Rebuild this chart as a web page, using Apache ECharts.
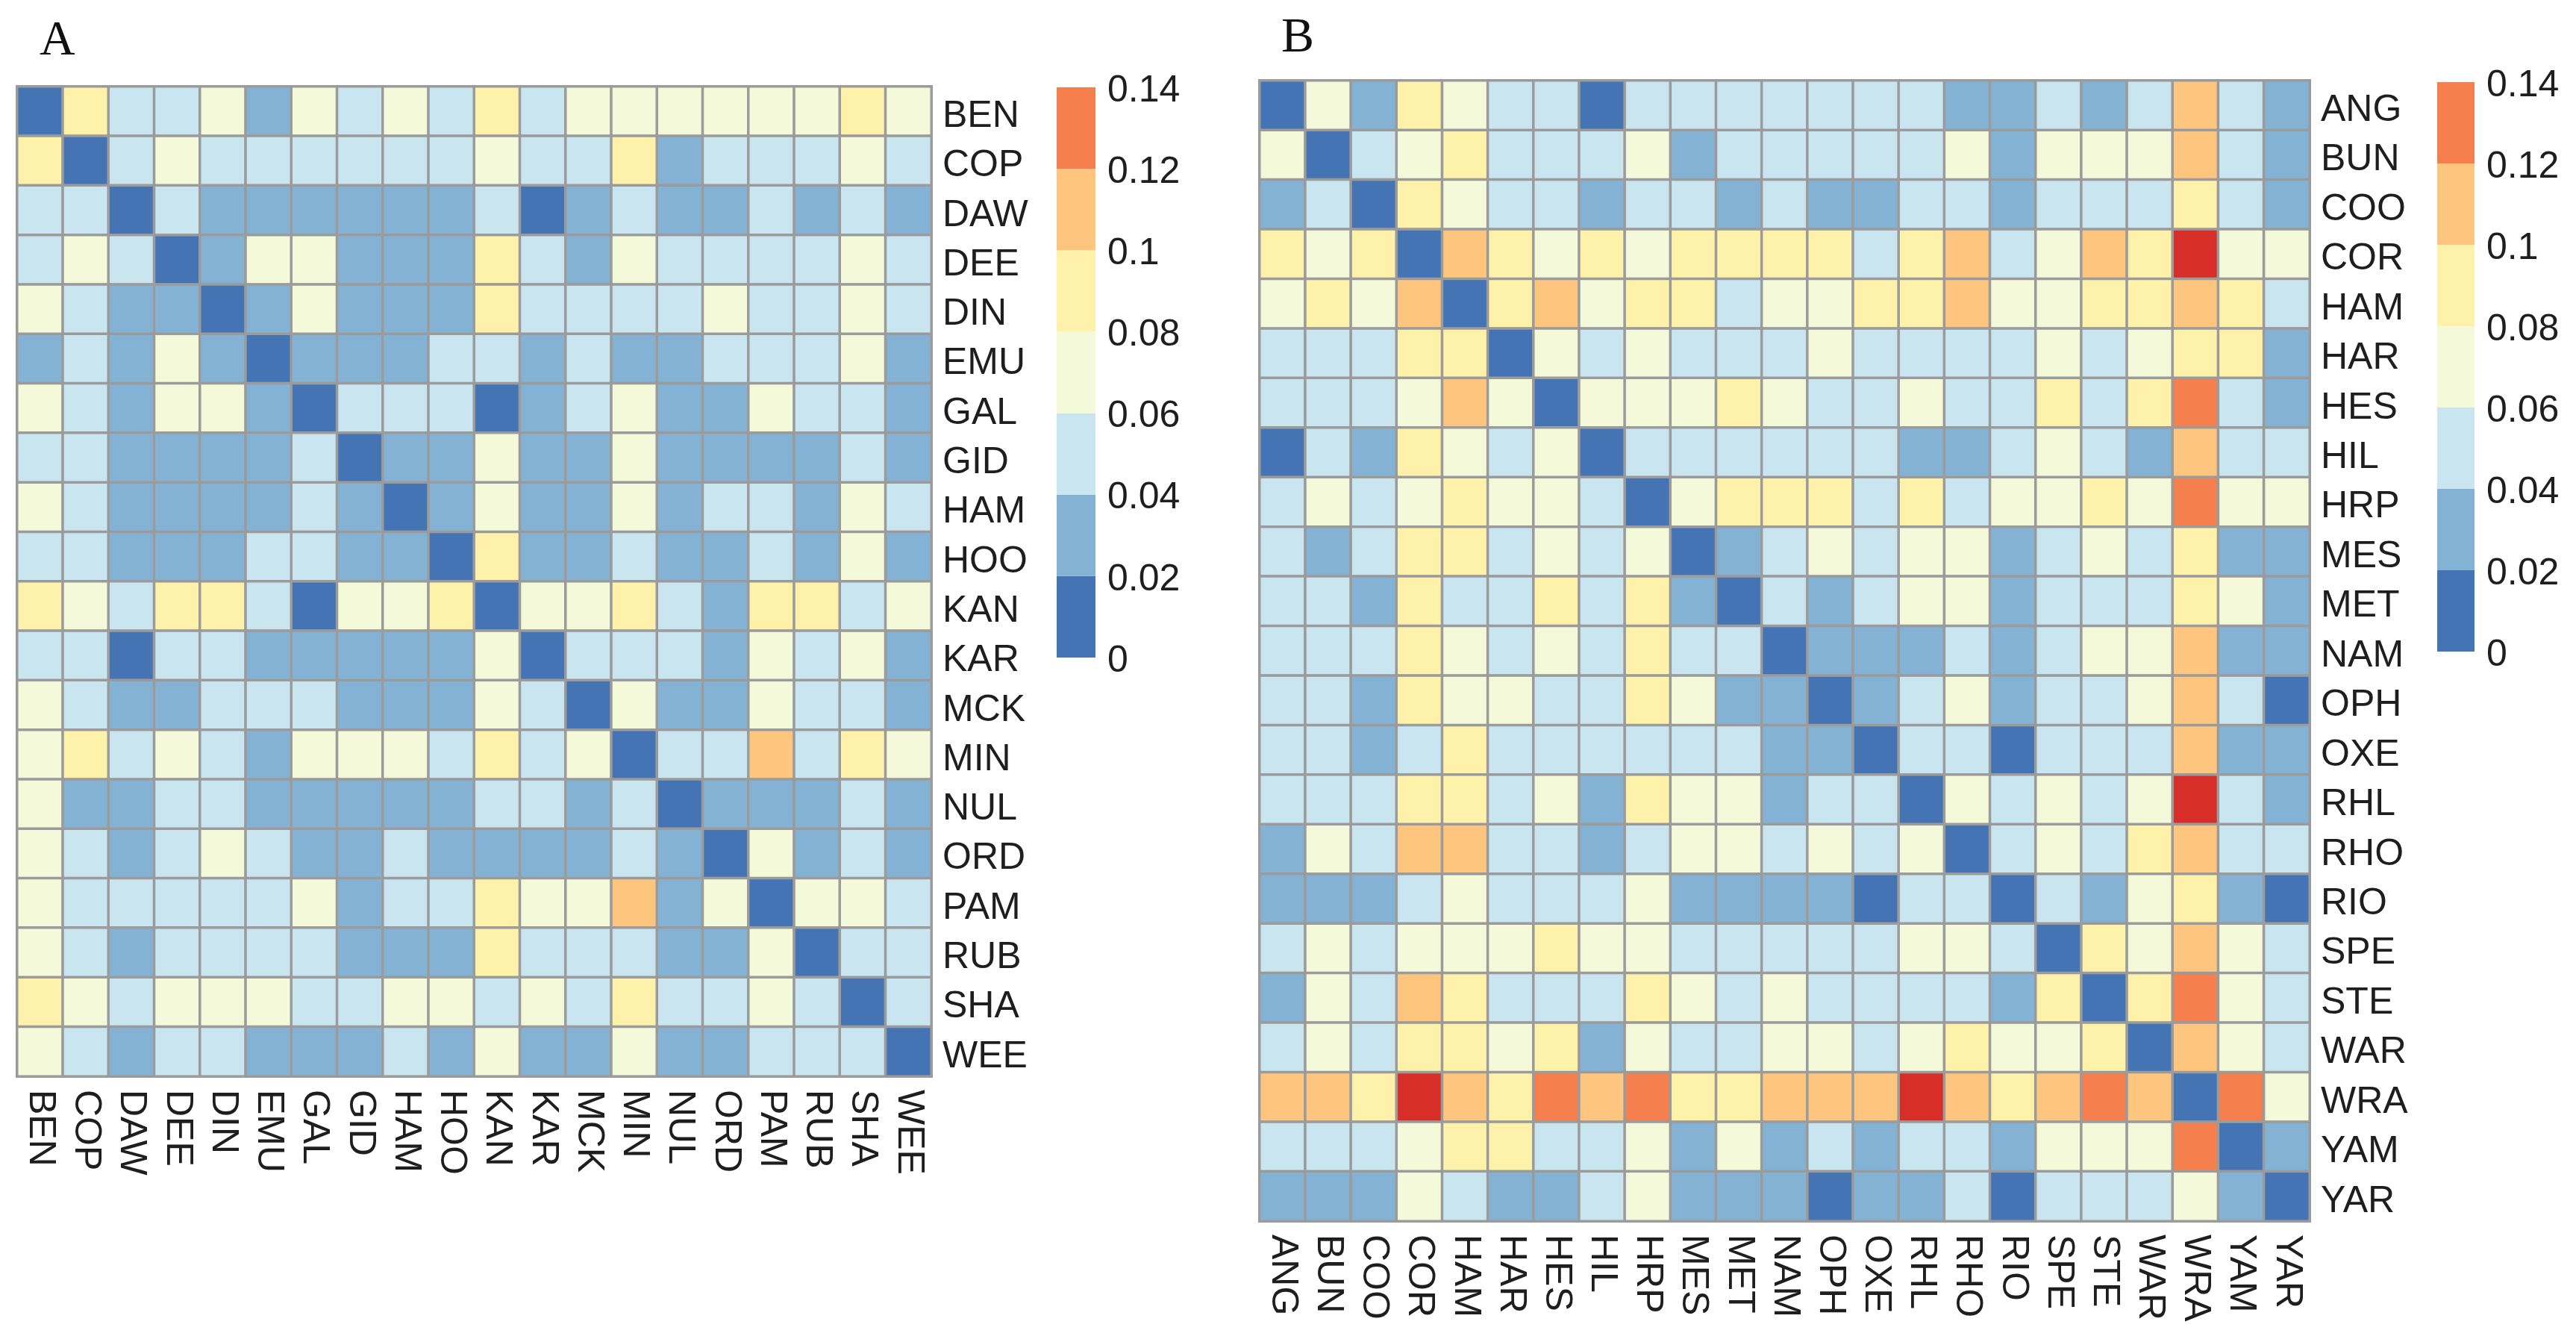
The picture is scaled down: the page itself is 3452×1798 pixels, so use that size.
<!DOCTYPE html>
<html>
<head>
<meta charset="utf-8">
<script src="https://cdn.jsdelivr.net/npm/echarts@6/dist/echarts.min.js"></script>
<style>
html,body{margin:0;padding:0;background:#fff;}
#chart{width:3452px;height:1798px;}
</style>
</head>
<body>
<div id="chart"></div>
<script>
// ---------- Panel A ----------
const sitesA = ['BEN','COP','DAW','DEE','DIN','EMU','GAL','GID','HAM','HOO','KAN','KAR','MCK','MIN','NUL','ORD','PAM','RUB','SHA','WEE'];
const valuesA = [
 [0,.09,.05,.05,.07,.03,.07,.05,.07,.05,.09,.05,.07,.07,.07,.07,.07,.07,.09,.07],
 [.09,0,.05,.07,.05,.05,.05,.05,.05,.05,.07,.05,.05,.09,.03,.05,.05,.05,.07,.05],
 [.05,.05,0,.05,.03,.03,.03,.03,.03,.03,.05,.01,.03,.05,.03,.03,.05,.03,.05,.03],
 [.05,.07,.05,0,.03,.07,.07,.03,.03,.03,.09,.05,.03,.07,.05,.05,.05,.05,.07,.05],
 [.07,.05,.03,.03,0,.03,.07,.03,.03,.03,.09,.05,.05,.05,.05,.07,.05,.05,.07,.05],
 [.03,.05,.03,.07,.03,0,.03,.03,.03,.05,.05,.03,.05,.03,.03,.05,.05,.05,.07,.03],
 [.07,.05,.03,.07,.07,.03,0,.05,.05,.05,.01,.03,.05,.07,.03,.03,.07,.05,.05,.03],
 [.05,.05,.03,.03,.03,.03,.05,0,.03,.03,.07,.03,.03,.07,.03,.03,.03,.03,.05,.03],
 [.07,.05,.03,.03,.03,.03,.05,.03,0,.03,.07,.03,.03,.07,.03,.05,.05,.03,.07,.05],
 [.05,.05,.03,.03,.03,.05,.05,.03,.03,0,.09,.03,.03,.05,.03,.03,.05,.03,.07,.03],
 [.09,.07,.05,.09,.09,.05,.01,.07,.07,.09,0,.07,.07,.09,.05,.03,.09,.09,.05,.07],
 [.05,.05,.01,.05,.05,.03,.03,.03,.03,.03,.07,0,.05,.05,.05,.03,.07,.05,.07,.03],
 [.07,.05,.03,.03,.05,.05,.05,.03,.03,.03,.07,.05,0,.07,.03,.03,.07,.05,.05,.03],
 [.07,.09,.05,.07,.05,.03,.07,.07,.07,.05,.09,.05,.07,0,.05,.05,.11,.05,.09,.07],
 [.07,.03,.03,.05,.05,.03,.03,.03,.03,.03,.05,.05,.03,.05,0,.03,.03,.03,.05,.03],
 [.07,.05,.03,.05,.07,.05,.03,.03,.05,.03,.03,.03,.03,.05,.03,0,.07,.03,.05,.03],
 [.07,.05,.05,.05,.05,.05,.07,.03,.05,.05,.09,.07,.07,.11,.03,.07,0,.07,.07,.05],
 [.07,.05,.03,.05,.05,.05,.05,.03,.03,.03,.09,.05,.05,.05,.03,.03,.07,0,.05,.05],
 [.09,.07,.05,.07,.07,.07,.05,.05,.07,.07,.05,.07,.05,.09,.05,.05,.07,.05,0,.05],
 [.07,.05,.03,.05,.05,.03,.03,.03,.05,.03,.07,.03,.03,.07,.03,.03,.05,.05,.05,0]
];

// ---------- Panel B ----------
const sitesB = ['ANG','BUN','COO','COR','HAM','HAR','HES','HIL','HRP','MES','MET','NAM','OPH','OXE','RHL','RHO','RIO','SPE','STE','WAR','WRA','YAM','YAR'];
const valuesB = [
 [0,.07,.03,.09,.07,.05,.05,.01,.05,.05,.05,.05,.05,.05,.05,.03,.03,.05,.03,.05,.11,.05,.03],
 [.07,0,.05,.07,.09,.05,.05,.05,.07,.03,.05,.05,.05,.05,.05,.07,.03,.07,.07,.07,.11,.05,.03],
 [.03,.05,0,.09,.07,.05,.05,.03,.05,.05,.03,.05,.03,.03,.05,.05,.03,.05,.05,.05,.09,.05,.03],
 [.09,.07,.09,0,.11,.09,.07,.09,.07,.09,.09,.09,.09,.05,.09,.11,.05,.07,.11,.09,.15,.07,.07],
 [.07,.09,.07,.11,0,.09,.11,.07,.09,.09,.05,.07,.07,.09,.09,.11,.07,.07,.09,.09,.11,.09,.05],
 [.05,.05,.05,.09,.09,0,.07,.05,.07,.05,.05,.05,.07,.05,.05,.05,.05,.07,.05,.07,.09,.09,.03],
 [.05,.05,.05,.07,.11,.07,0,.07,.07,.07,.09,.07,.05,.05,.07,.05,.05,.09,.05,.09,.13,.05,.03],
 [.01,.05,.03,.09,.07,.05,.07,0,.05,.05,.05,.05,.05,.05,.03,.03,.05,.07,.05,.03,.11,.05,.05],
 [.05,.07,.05,.07,.09,.07,.07,.05,0,.07,.09,.09,.09,.05,.09,.05,.07,.07,.09,.07,.13,.07,.07],
 [.05,.03,.05,.09,.09,.05,.07,.05,.07,0,.03,.05,.07,.05,.07,.07,.03,.05,.07,.05,.09,.03,.03],
 [.05,.05,.03,.09,.05,.05,.09,.05,.09,.03,0,.05,.03,.05,.07,.07,.03,.05,.05,.05,.09,.07,.03],
 [.05,.05,.05,.09,.07,.05,.07,.05,.09,.05,.05,0,.03,.03,.03,.05,.03,.05,.07,.07,.11,.03,.03],
 [.05,.05,.03,.09,.07,.07,.05,.05,.09,.07,.03,.03,0,.03,.05,.07,.03,.05,.05,.07,.11,.05,.01],
 [.05,.05,.03,.05,.09,.05,.05,.05,.05,.05,.05,.03,.03,0,.05,.05,.01,.05,.05,.05,.11,.03,.03],
 [.05,.05,.05,.09,.09,.05,.07,.03,.09,.07,.07,.03,.05,.05,0,.07,.05,.07,.05,.07,.15,.05,.03],
 [.03,.07,.05,.11,.11,.05,.05,.03,.05,.07,.07,.05,.07,.05,.07,0,.05,.07,.05,.09,.11,.05,.05],
 [.03,.03,.03,.05,.07,.05,.05,.05,.07,.03,.03,.03,.03,.01,.05,.05,0,.05,.03,.07,.09,.03,.01],
 [.05,.07,.05,.07,.07,.07,.09,.07,.07,.05,.05,.05,.05,.05,.07,.07,.05,0,.09,.07,.11,.07,.05],
 [.03,.07,.05,.11,.09,.05,.05,.05,.09,.07,.05,.07,.05,.05,.05,.05,.03,.09,0,.09,.13,.07,.05],
 [.05,.07,.05,.09,.09,.07,.09,.03,.07,.05,.05,.07,.07,.05,.07,.09,.07,.07,.09,0,.11,.07,.05],
 [.11,.11,.09,.15,.11,.09,.13,.11,.13,.09,.09,.11,.11,.11,.15,.11,.09,.11,.13,.11,0,.13,.07],
 [.05,.05,.05,.07,.09,.09,.05,.05,.07,.03,.07,.03,.05,.03,.05,.05,.03,.07,.07,.07,.13,0,.03],
 [.03,.03,.03,.07,.05,.03,.03,.05,.07,.03,.03,.03,.01,.03,.03,.05,.01,.05,.05,.05,.07,.03,0]
];

// ---------- Colour scale ----------
const binEdges = [0, 0.02, 0.04, 0.06, 0.08, 0.10, 0.12, 0.14];
const binColors = ['#4474b4', '#84b2d5', '#c9e5f0', '#f3f9d9', '#fef1a9', '#fec57e', '#f57f4d'];
const overColor = '#d72f27';

// ---------- Build ----------
function toCells(mat) {
  const out = [];
  mat.forEach((row, r) => row.forEach((v, c) => out.push([c, r, v])));
  return out;
}
const pieces = [];
for (let i = 0; i < binColors.length; i++) {
  pieces.push({ gte: binEdges[i], lt: binEdges[i + 1], color: binColors[i] });
}
pieces.push({ gte: binEdges[binEdges.length - 1], color: overColor });

const FONT = 'Liberation Sans, Arial, sans-serif';
const TXT = '#1e1e1e';
const FS = 50;

const grids = [
  { left: 23, top: 116, width: 1225, height: 1326 },
  { left: 1688, top: 108, width: 1407, height: 1528 },
  { left: 1416, top: 117, width: 52, height: 764 },
  { left: 3266, top: 110, width: 50, height: 763 }
].map(g => Object.assign({ show: true, borderColor: '#c4c4c4', borderWidth: 2, backgroundColor: 'transparent' }, g));
grids[2].show = false; grids[3].show = false;

function catX(names, gi) {
  return {
    type: 'category', gridIndex: gi, data: names, position: 'bottom',
    axisLine: { show: false }, axisTick: { show: false }, splitArea: { show: false }, splitLine: { show: false },
    axisLabel: { interval: 0, rotate: -90, margin: 18, fontSize: FS, color: TXT, fontFamily: FONT }
  };
}
function catY(names, gi) {
  return {
    type: 'category', gridIndex: gi, data: names, position: 'right', inverse: true,
    axisLine: { show: false }, axisTick: { show: false }, splitArea: { show: false }, splitLine: { show: false },
    axisLabel: { interval: 0, margin: 15, fontSize: FS, color: TXT, fontFamily: FONT, verticalAlign: 'top', lineHeight: 14 }
  };
}
function legX(gi) {
  return { type: 'category', gridIndex: gi, data: ['k'], show: false };
}
function legY(gi) {
  return {
    type: 'value', gridIndex: gi, position: 'right', min: 0, max: 0.14, interval: 0.02,
    axisLine: { show: false }, axisTick: { show: false }, splitLine: { show: false },
    axisLabel: { margin: 16, fontSize: FS, color: TXT, fontFamily: FONT, showMaxLabel: true, showMinLabel: true, verticalAlign: 'top', lineHeight: 10 }
  };
}

const series = [
  { type: 'heatmap', xAxisIndex: 0, yAxisIndex: 0, data: toCells(valuesA),
    itemStyle: { borderColor: '#9b9b9b', borderWidth: 3.5 }, emphasis: { disabled: true }, progressive: 0 },
  { type: 'heatmap', xAxisIndex: 1, yAxisIndex: 1, data: toCells(valuesB),
    itemStyle: { borderColor: '#9b9b9b', borderWidth: 3.5 }, emphasis: { disabled: true }, progressive: 0 }
];
[2, 3].forEach(gi => {
  for (let i = 0; i < binColors.length; i++) {
    series.push({
      type: 'bar', xAxisIndex: gi, yAxisIndex: gi, stack: 'leg' + gi,
      data: [+(binEdges[i + 1] - binEdges[i]).toFixed(4)],
      barWidth: '100%', itemStyle: { color: binColors[i] }, silent: true, animation: false
    });
  }
});

const chart = echarts.init(document.getElementById('chart'), null, { renderer: 'canvas' });
chart.setOption({
  backgroundColor: '#ffffff',
  animation: false,
  title: [
    { text: 'A', left: 48, top: 18, textStyle: { fontFamily: 'Liberation Serif, Times New Roman, serif', fontSize: 66, fontWeight: 'normal', color: '#111' } },
    { text: 'B', left: 1712, top: 14, textStyle: { fontFamily: 'Liberation Serif, Times New Roman, serif', fontSize: 66, fontWeight: 'normal', color: '#111' } }
  ],
  grid: grids,
  xAxis: [catX(sitesA, 0), catX(sitesB, 1), legX(2), legX(3)],
  yAxis: [catY(sitesA, 0), catY(sitesB, 1), legY(2), legY(3)],
  visualMap: { type: 'piecewise', show: false, seriesIndex: [0, 1], dimension: 2, pieces: pieces },
  series: series
});
</script>
</body>
</html>
